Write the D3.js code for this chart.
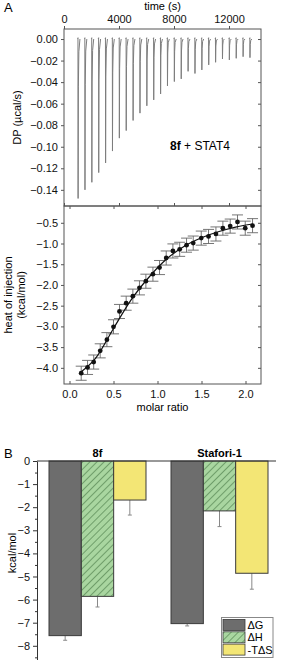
<!DOCTYPE html>
<html><head><meta charset="utf-8">
<script src="https://cdn.jsdelivr.net/npm/d3@7"></script>
<style>
body{margin:0;background:#fff;}
svg{display:block;font-family:"Liberation Sans",Arial,sans-serif;}
</style></head>
<body><svg id="c" width="283" height="660"></svg>
<script>
// ---------- Panel A data ----------
const injTimes = [1000,1500,2000,2500,3000,3500,4000,4500,5000,5500,6000,6500,7000,7500,8000,8500,9000,9500,10000,10500,11000,11500,12000,12500,13000,13500];
const injPeaks = [-0.148,-0.140,-0.133,-0.124,-0.115,-0.104,-0.092,-0.085,-0.0756,-0.0688,-0.062,-0.0565,-0.051,-0.0435,-0.0395,-0.037,-0.030,-0.032,-0.0287,-0.024,-0.0216,-0.0185,-0.0194,-0.0179,-0.0164,-0.0173];
const timeTicks = [0,4000,8000,12000];
const dpTicks = [0.00,-0.02,-0.04,-0.06,-0.08,-0.10,-0.12,-0.14];

const molarRatio = [0.133,0.205,0.275,0.349,0.425,0.50,0.568,0.644,0.72,0.795,0.868,0.948,1.023,1.099,1.175,1.252,1.33,1.406,1.497,1.58,1.664,1.743,1.826,1.909,1.997,2.08];
const heat = [-4.13,-3.99,-3.86,-3.59,-3.32,-3.01,-2.64,-2.44,-2.27,-2.07,-1.91,-1.74,-1.58,-1.35,-1.18,-1.14,-1.04,-0.99,-0.87,-0.83,-0.77,-0.63,-0.58,-0.48,-0.63,-0.57];
const heatErr = [0.17,0.17,0.17,0.17,0.17,0.17,0.17,0.17,0.17,0.17,0.17,0.17,0.17,0.17,0.17,0.17,0.17,0.17,0.17,0.17,0.17,0.17,0.17,0.17,0.17,0.17];
const fitX = [0.13,0.3,0.5,0.7,0.9,1.1,1.3,1.5,1.7,1.9,2.08];
const fitY = [-4.10,-3.76,-3.05,-2.36,-1.82,-1.38,-1.07,-0.86,-0.71,-0.60,-0.53];
const mrTicks = [0.0,0.5,1.0,1.5,2.0];
const heatTicks = [-0.5,-1.0,-1.5,-2.0,-2.5,-3.0,-3.5,-4.0];

// ---------- Panel B data ----------
const groups = ["8f","Stafori-1"];
const terms = ["ΔG","ΔH","-TΔS"];
const values8f = [-7.56,-5.86,-1.69];
const errors8f = [0.20,0.46,0.65];
const valuesStafori = [-7.04,-2.16,-4.86];
const errorsStafori = [0.10,0.68,0.69];
const kcalTicks = [0,-1,-2,-3,-4,-5,-6,-7,-8];

const svg = d3.select("#c");
const FONT = 11;
const minus = v => d3.format(".2f")(v).replace("-", "\u2212");

// ===== Panel A top =====
const L = 64, R = 261, T1 = 29, B1 = 206, T2 = 206, B2 = 384;
const xT = d3.scaleLinear().domain([0,14327]).range([L,R]);
const yDP = d3.scaleLinear().domain([0.0093,-0.155]).range([T1,B1]);

svg.append("text").attr("x",4).attr("y",12).attr("font-size",13).text("A");
svg.append("text").attr("x",(L+R)/2).attr("y",10).attr("text-anchor","middle").attr("font-size",FONT).text("time (s)");

// spikes
const spikeLine = d3.line().x(d=>xT(d[0])).y(d=>yDP(d[1]));
injTimes.forEach((t,i)=>{
  const p = injPeaks[i];
  const pts = [[t-10,0.0003],[t+20,0.0012],[t+15,0],[t+25,p],[t+45,p*0.3],[t+80,p*0.08],[t+160,0]];
  svg.append("path").attr("d",spikeLine(pts)).attr("fill","none").attr("stroke","#7d7d7d").attr("stroke-width",1);
});

svg.append("rect").attr("x",L).attr("y",T1).attr("width",R-L).attr("height",B1-T1).attr("fill","none").attr("stroke","#555").attr("stroke-width",1);

// top axis
const gTop = svg.append("g").attr("transform",`translate(0,${T1})`)
  .call(d3.axisTop(xT).tickValues(timeTicks).tickSize(3).tickSizeOuter(0).tickFormat(d3.format("d")));
gTop.select(".domain").remove();
gTop.selectAll("text").attr("font-size",FONT).attr("font-family","Liberation Sans, Arial").attr("fill","#111");
gTop.selectAll("line").attr("stroke","#555");
svg.append("g").attr("transform",`translate(0,${B1})`)
  .call(d3.axisTop(xT).tickValues(timeTicks).tickSize(3).tickSizeOuter(0).tickFormat(""))
  .call(g=>{g.select(".domain").remove();g.selectAll("line").attr("stroke","#555");});

const gL1 = svg.append("g").attr("transform",`translate(${L},0)`)
  .call(d3.axisLeft(yDP).tickValues(dpTicks).tickSize(3).tickSizeOuter(0).tickFormat(minus));
gL1.select(".domain").remove();
gL1.selectAll("text").attr("font-size",FONT).attr("font-family","Liberation Sans, Arial").attr("fill","#111");
gL1.selectAll("line").attr("stroke","#555");
svg.append("g").attr("transform",`translate(${R},0)`)
  .call(d3.axisLeft(yDP).tickValues(dpTicks).tickSize(3).tickSizeOuter(0).tickFormat(""))
  .call(g=>{g.select(".domain").remove();g.selectAll("line").attr("stroke","#555");});

svg.append("text").attr("transform",`translate(21,${(T1+B1)/2}) rotate(-90)`).attr("text-anchor","middle").attr("font-size",FONT).text("DP (µcal/s)");

const lab = svg.append("text").attr("x",200).attr("y",150).attr("text-anchor","middle").attr("font-size",12);
lab.append("tspan").attr("font-weight","bold").text("8f");
lab.append("tspan").text(" + STAT4");

// ===== Panel A bottom =====
const xM = d3.scaleLinear().domain([-0.0625,2.1761]).range([L,R]);
const yH = d3.scaleLinear().domain([-0.095,-4.39]).range([T2,B2]);

svg.append("rect").attr("x",L).attr("y",T2).attr("width",R-L).attr("height",B2-T2).attr("fill","none").attr("stroke","#555").attr("stroke-width",1);

const gB2 = svg.append("g").attr("transform",`translate(0,${B2})`)
  .call(d3.axisBottom(xM).tickValues(mrTicks).tickSize(0).tickPadding(6).tickFormat(d3.format(".1f")));
gB2.select(".domain").remove();
gB2.selectAll("text").attr("font-size",FONT).attr("font-family","Liberation Sans, Arial").attr("fill","#111");
svg.append("g").attr("transform",`translate(0,${B2})`)
  .call(d3.axisTop(xM).tickValues(mrTicks).tickSize(3).tickSizeOuter(0).tickFormat(""))
  .call(g=>{g.select(".domain").remove();g.selectAll("line").attr("stroke","#555");});
svg.append("g").attr("transform",`translate(0,${T2})`)
  .call(d3.axisBottom(xM).tickValues(mrTicks).tickSize(3).tickSizeOuter(0).tickFormat(""))
  .call(g=>{g.select(".domain").remove();g.selectAll("line").attr("stroke","#555");});

const gL2 = svg.append("g").attr("transform",`translate(${L},0)`)
  .call(d3.axisLeft(yH).tickValues(heatTicks).tickSize(3).tickSizeOuter(0).tickFormat(v=>d3.format(".1f")(v).replace("-","\u2212")));
gL2.select(".domain").remove();
gL2.selectAll("text").attr("font-size",FONT).attr("font-family","Liberation Sans, Arial").attr("fill","#111");
gL2.selectAll("line").attr("stroke","#555");
svg.append("g").attr("transform",`translate(${R},0)`)
  .call(d3.axisLeft(yH).tickValues(heatTicks).tickSize(3).tickSizeOuter(0).tickFormat(""))
  .call(g=>{g.select(".domain").remove();g.selectAll("line").attr("stroke","#555");});

const yl = svg.append("text").attr("transform",`translate(12,${(T2+B2)/2}) rotate(-90)`).attr("text-anchor","middle").attr("font-size",FONT);
yl.append("tspan").attr("x",0).attr("dy",0).text("heat of injection");
yl.append("tspan").attr("x",0).attr("dy",13).text("(kcal/mol)");

svg.append("text").attr("x",(L+R)/2).attr("y",411).attr("text-anchor","middle").attr("font-size",FONT).text("molar ratio");

// error bars
const eb = svg.append("g").attr("stroke","#666").attr("stroke-width",0.9);
molarRatio.forEach((m,i)=>{
  const x = xM(m), y1 = yH(heat[i]-heatErr[i]), y2 = yH(heat[i]+heatErr[i]);
  eb.append("line").attr("x1",x).attr("x2",x).attr("y1",y1).attr("y2",y2);
  eb.append("line").attr("x1",x-5.5).attr("x2",x+5.5).attr("y1",y1).attr("y2",y1);
  eb.append("line").attr("x1",x-5.5).attr("x2",x+5.5).attr("y1",y2).attr("y2",y2);
});
svg.append("path").datum(fitX.map((x,i)=>[x,fitY[i]]))
  .attr("d",d3.line().x(d=>xM(d[0])).y(d=>yH(d[1])).curve(d3.curveMonotoneX))
  .attr("fill","none").attr("stroke","#111").attr("stroke-width",1.2);
svg.append("g").selectAll("circle").data(molarRatio).join("circle")
  .attr("cx",d=>xM(d)).attr("cy",(d,i)=>yH(heat[i])).attr("r",2.4).attr("fill","#111");

// ===== Panel B =====
const defs = svg.append("defs");
const pat = defs.append("pattern").attr("id","hatch").attr("patternUnits","userSpaceOnUse").attr("width",5).attr("height",5).attr("patternTransform","rotate(45)");
pat.append("rect").attr("width",5).attr("height",5).attr("fill","#a9d6a0");
pat.append("line").attr("x1",0).attr("y1",0).attr("x2",0).attr("y2",5).attr("stroke","#4f7f4c").attr("stroke-width",1.3);

const colors = {"ΔG":"#6d6d6d","ΔH":"url(#hatch)","-TΔS":"#f3e675"};
const BL = 37, BR = 276, BT = 461;
const x0 = d3.scaleBand().domain(groups).range([49,268]).paddingInner(0.205);
const x1 = d3.scaleBand().domain(terms).range([0,x0.bandwidth()]);
const yK = d3.scaleLinear().domain([0,-8.615]).range([BT,660]);

svg.append("text").attr("x",4).attr("y",458).attr("font-size",13).text("B");

const dataB = [
  {g:"8f", vals:values8f, errs:errors8f},
  {g:"Stafori-1", vals:valuesStafori, errs:errorsStafori}
];
dataB.forEach(d=>{
  const gg = svg.append("g").attr("transform",`translate(${x0(d.g)},0)`);
  terms.forEach((t,i)=>{
    const v = d.vals[i], e = d.errs[i];
    const cx = x1(t)+x1.bandwidth()/2;
    gg.append("line").attr("x1",cx).attr("x2",cx).attr("y1",yK(v)).attr("y2",yK(v-e)).attr("stroke","#888").attr("stroke-width",1);
    gg.append("line").attr("x1",cx-2).attr("x2",cx+2).attr("y1",yK(v-e)).attr("y2",yK(v-e)).attr("stroke","#888").attr("stroke-width",1);
    gg.append("rect").attr("x",x1(t)).attr("y",yK(0)).attr("width",x1.bandwidth()).attr("height",yK(v)-yK(0))
      .attr("fill",colors[t]).attr("stroke","#3a3a3a").attr("stroke-width",1);
  });
  svg.append("text").attr("x",x0(d.g)+x0.bandwidth()/2).attr("y",457).attr("text-anchor","middle").attr("font-size",FONT).attr("font-weight","bold").text(d.g);
});

svg.append("line").attr("x1",BL).attr("x2",BR).attr("y1",BT).attr("y2",BT).attr("stroke","#333").attr("stroke-width",1);
const gK = svg.append("g").attr("transform",`translate(${BL},0)`)
  .call(d3.axisLeft(yK).tickValues(kcalTicks).tickSize(4).tickSizeOuter(0).tickFormat(d3.format("d")));
gK.select(".domain").attr("stroke","#333");
gK.selectAll("text").attr("font-size",FONT).attr("font-family","Liberation Sans, Arial").attr("fill","#111");
gK.selectAll("line").attr("stroke","#333");
svg.append("g").attr("transform",`translate(${BL},0)`)
  .call(d3.axisLeft(yK).tickValues(kcalTicks.map(v=>v-0.5)).tickSize(2).tickSizeOuter(0).tickFormat(""))
  .call(g=>{g.select(".domain").remove();g.selectAll("line").attr("stroke","#333");});

svg.append("text").attr("transform",`translate(16,553) rotate(-90)`).attr("text-anchor","middle").attr("font-size",FONT).text("kcal/mol");

const lg = svg.append("g");
lg.append("rect").attr("x",221.5).attr("y",617.5).attr("width",51.5).attr("height",40).attr("fill","#fff").attr("stroke","#888");
terms.forEach((t,i)=>{
  const y = 619.5 + i*12.3;
  lg.append("rect").attr("x",223).attr("y",y).attr("width",22).attr("height",11).attr("fill",colors[t]).attr("stroke","#3a3a3a").attr("stroke-width",0.8);
  lg.append("text").attr("x",247.5).attr("y",y+9.5).attr("font-size",FONT).text(t);
});
</script></body></html>
